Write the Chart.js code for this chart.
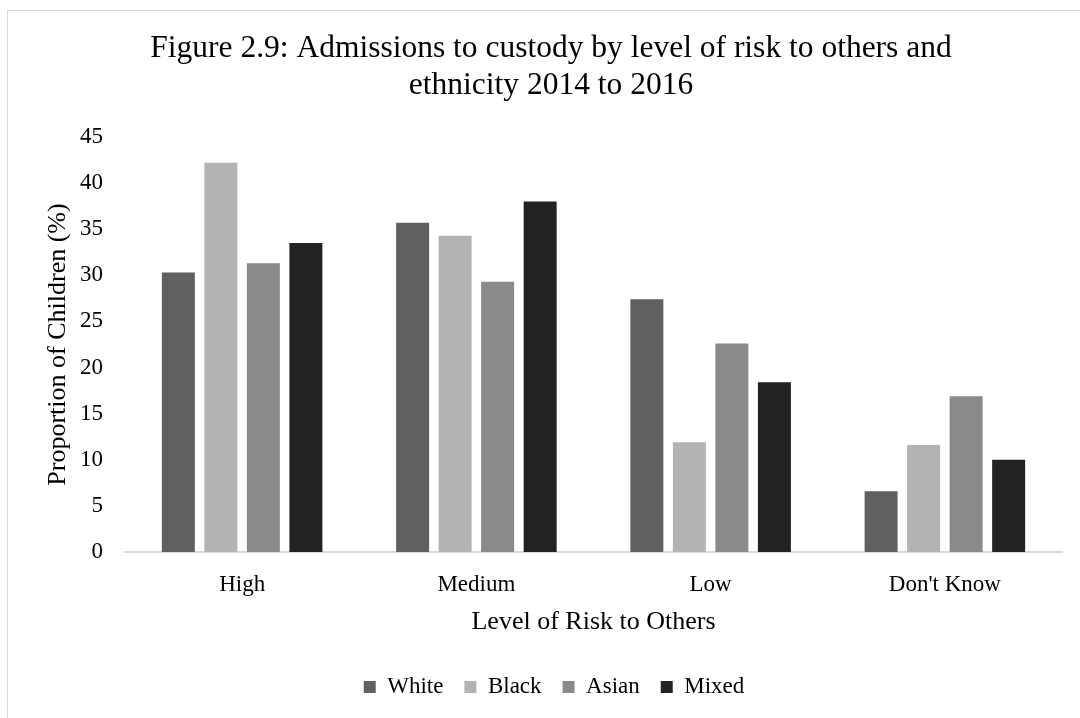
<!DOCTYPE html>
<html>
<head>
<meta charset="utf-8">
<script src="https://cdn.jsdelivr.net/npm/chart.js@4.4.0/dist/chart.umd.min.js"></script>
<style>
  html, body { margin: 0; padding: 0; background: #fff; }
  #wrap { position: relative; width: 1080px; height: 718px; overflow: hidden; }
  #frame { position: absolute; left: 7px; top: 10px; width: 1100px; height: 800px; border: 1px solid #d9d9d9; box-sizing: border-box; pointer-events: none; }
  canvas { position: absolute; left: 0; top: 0; }
</style>
</head>
<body>
<div id="wrap">
  <div id="frame"></div>
  <canvas id="c" width="1080" height="718"></canvas>
</div>
<script>
const categories = ["High", "Medium", "Low", "Don't Know"];
const seriesNames = ["White", "Black", "Asian", "Mixed"];
const whiteValues = [30.3, 35.7, 27.4, 6.6];
const blackValues = [42.2, 34.3, 11.9, 11.6];
const asianValues = [31.3, 29.3, 22.6, 16.9];
const mixedValues = [33.5, 38.0, 18.4, 10.0];
const yTicks = [0, 5, 10, 15, 20, 25, 30, 35, 40, 45];
const colors = ["#606060", "#b3b3b3", "#8a8a8a", "#222222"];

const FONT = "'Liberation Serif', 'Times New Roman', serif";
const allValues = [whiteValues, blackValues, asianValues, mixedValues];

const datasets = seriesNames.map((name, i) => ({
  label: name,
  data: allValues[i],
  backgroundColor: colors[i],
  borderWidth: 0,
  categoryPercentage: 0.726,
  barPercentage: 0.776
}));

new Chart(document.getElementById('c'), {
  type: 'bar',
  data: { labels: categories, datasets: datasets },
  options: {
    responsive: false,
    animation: false,
    devicePixelRatio: 1,
    layout: { padding: { left: 0, right: 18, top: 0, bottom: 9.5 } },
    plugins: {
      title: {
        display: true,
        text: ["Figure 2.9: Admissions to custody by level of risk to others and", "ethnicity 2014 to 2016"],
        color: '#000',
        font: { family: FONT, size: 31.5, weight: 'normal', lineHeight: 1.2 },
        padding: { top: 29.4, bottom: 32 }
      },
      legend: {
        position: 'bottom',
        labels: {
          color: '#000',
          font: { family: FONT, size: 23 },
          boxWidth: 12,
          boxHeight: 12,
          padding: 21
        }
      },
      tooltip: { enabled: false }
    },
    scales: {
      x: {
        grid: { display: false, drawTicks: false },
        border: { display: true, color: '#d9d9d9', width: 2 },
        ticks: { color: '#000', font: { family: FONT, size: 23 }, padding: 19 },
        title: {
          display: true,
          text: 'Level of Risk to Others',
          color: '#000',
          font: { family: FONT, size: 26 },
          padding: { top: 0, bottom: 17 }
        },
        afterFit: (s) => { s.height = 102.5; }
      },
      y: {
        min: 0,
        max: 45,
        afterBuildTicks: (s) => { s.ticks = yTicks.map(v => ({ value: v })); },
        grid: { display: false, drawTicks: false },
        border: { display: false },
        ticks: { color: '#000', font: { family: FONT, size: 23 }, padding: 22 },
        title: {
          display: true,
          text: 'Proportion of Children (%)',
          color: '#000',
          font: { family: FONT, size: 26 },
          padding: { top: 43, bottom: 0 }
        },
        afterFit: (s) => { s.width = 125; }
      }
    }
  },
  plugins: [{
    id: 'shiftBoxes',
    afterLayout(chart) {
      const t = chart.titleBlock;
      if (t) { t.left += 20; t.right += 20; }
      const l = chart.legend;
      if (l) { l.left += 23; l.right += 23; }
    }
  }]
});
</script>
</body>
</html>
